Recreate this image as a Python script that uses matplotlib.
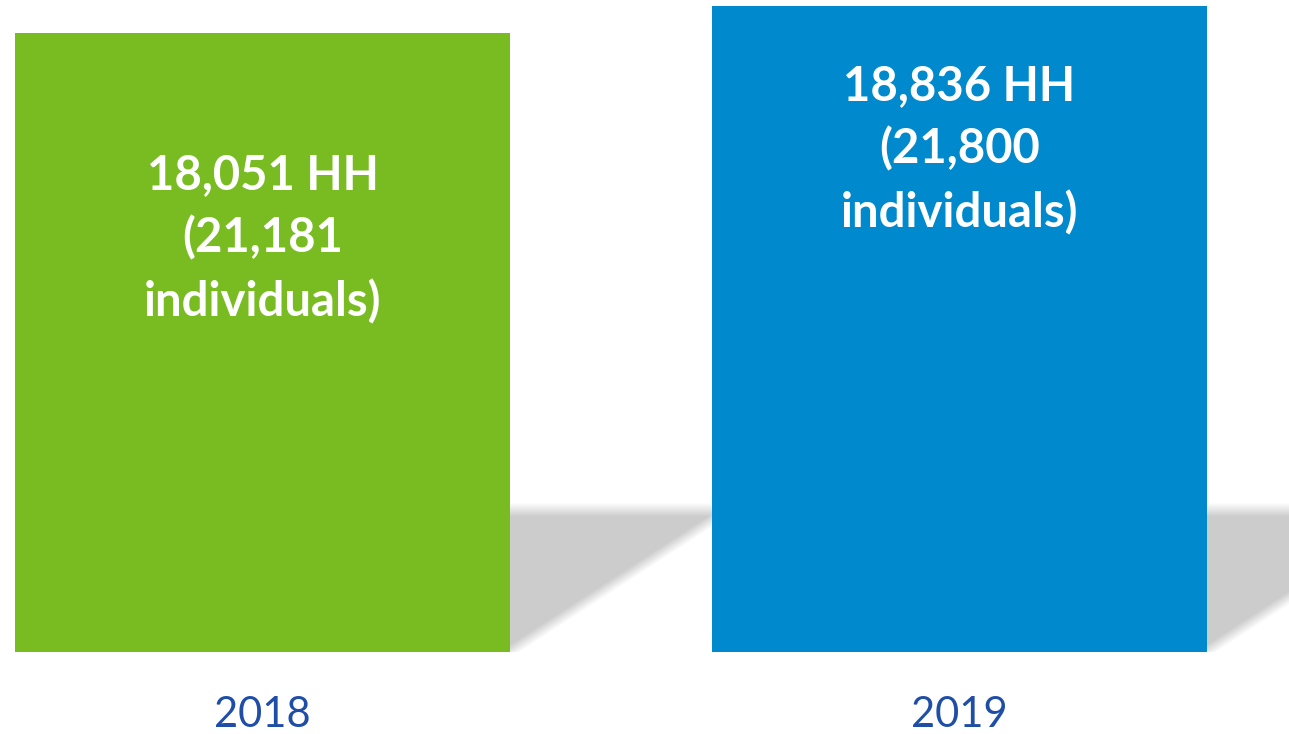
import numpy as np
import matplotlib.pyplot as plt

# data
years = ['2018', '2019']
households = [18051, 18836]
individuals = [21181, 21800]
bar_colors = ['#78BC22', '#0089CC']
label_y = [12050, 14640]   # vertical centre of the white labels (HH units)

W, H, DPI = 1289, 734, 100
fig = plt.figure(figsize=(W / DPI, H / DPI), dpi=DPI)
# axes: baseline of the bars at y=652 px, top at figure top
ax = fig.add_axes([0, (H - 652) / H, 1, 652 / H])

pos = np.arange(len(years))
bw = 0.71
xmin, xmax = -0.3766, 1.4727
ymax = 19011
ax.set_xlim(xmin, xmax)
ax.set_ylim(0, ymax)

# soft cast shadow to the right of each bar
sx = W / (xmax - xmin)          # px per x unit
sy = 652 / ymax                 # px per HH
gx = np.linspace(xmin, xmax, W)
gy = np.linspace(0, ymax, 652)
X, Y = np.meshgrid(gx, gy)
alpha = np.zeros_like(X)
for p in pos:
    dx = (X - (p + bw / 2)) * sx
    dy = Y * sy
    a_top = np.clip((142 - dy) / 14 + 0.5, 0, 1)
    a_diag = np.clip((dy - 0.65 * dx) / 14 + 0.5, 0, 1)
    a_left = (dx >= -2).astype(float)
    alpha = np.maximum(alpha, a_top * a_diag * a_left)
rgba = np.zeros(X.shape + (4,))
rgba[..., :3] = 0.8
rgba[..., 3] = alpha
ax.imshow(rgba, extent=[xmin, xmax, 0, ymax], origin='lower',
          aspect='auto', zorder=1, interpolation='bilinear')

ax.bar(pos, households, width=bw, color=bar_colors, zorder=2)

for p, hh, ind, ly in zip(pos, households, individuals, label_y):
    ax.text(p, ly, f'{hh:,} HH\n({ind:,}\nindividuals)', ha='center', va='center',
            color='white', fontsize=34, fontweight='bold', family='Lato',
            linespacing=1.5, zorder=3)

ax.set_xticks(pos, years)
ax.tick_params(axis='x', length=0, pad=32, labelsize=30, labelcolor='#1F4EA6')
for lab in ax.get_xticklabels():
    lab.set_family('Lato')
ax.set_yticks([])
for s in ax.spines.values():
    s.set_visible(False)

fig.savefig('out.png', dpi=DPI)
